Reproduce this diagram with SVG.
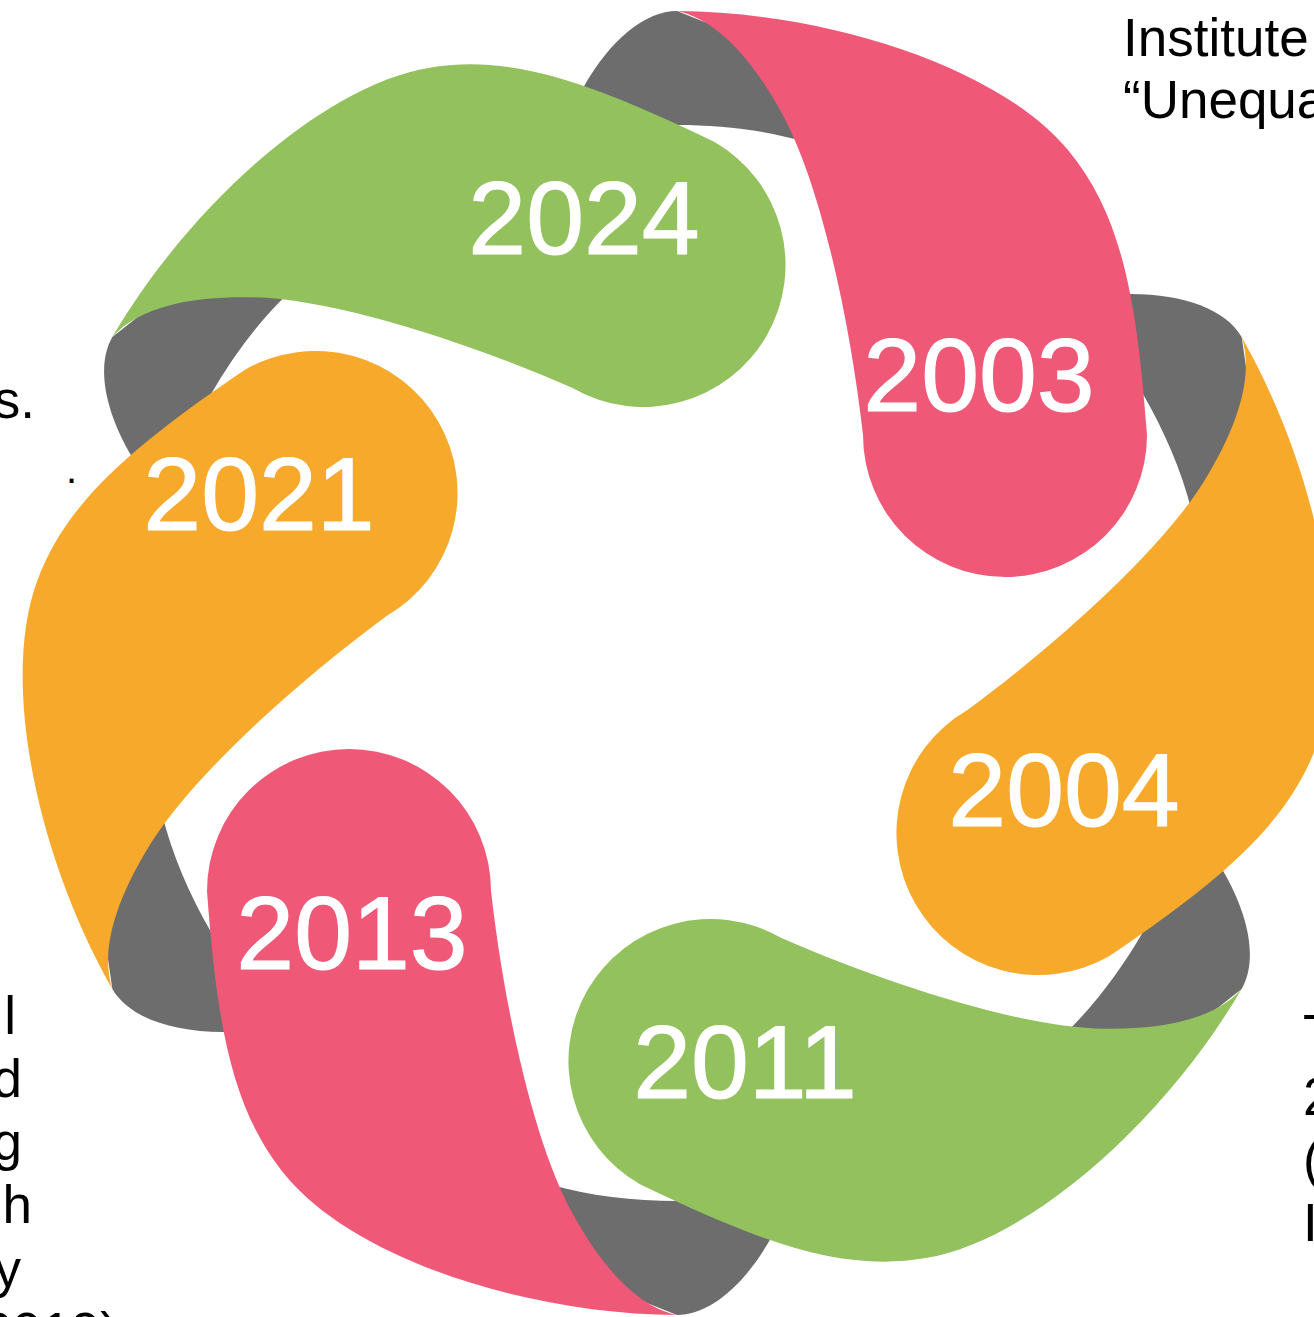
<svg xmlns="http://www.w3.org/2000/svg" xmlns:xlink="http://www.w3.org/1999/xlink" width="1314" height="1317" viewBox="0 0 1314 1317">
  <style>
    .pink{fill:#F05878}
    .orange{fill:#F6A92B}
    .green{fill:#92C15D}
    .fold{fill:#6D6D6D}
    .year{font-family:"Liberation Sans",Arial,sans-serif;font-size:104px;fill:#FFFFFF;stroke:#FFFFFF;stroke-width:1.2px;text-anchor:middle}
    .note{font-family:"Liberation Sans",Arial,sans-serif;font-size:53px;fill:#000000}
    .end{text-anchor:end}
  </style>
  <defs>
    <!-- one ribbon segment: pointed tail on the outer ring, round cap inside -->
    <path id="petal" d="M677,11 C830,12 1000,68 1068,150 C1122,215 1137,300 1147,435 A142,142 0 0 1 863,435 C850,320 820,180 780,110 C755,65 720,20 677,11 Z"/>
    <!-- grey underside of the ribbon where it folds behind the tail -->
    <path id="fold" d="M677,11 C645,11 610,40 583,88 L545,150 L612,133 C635,127 655,125 677,125 C720,125 765,130 805,142 L800,60 Z"/>
  </defs>

  <rect width="1314" height="1317" fill="#FFFFFF"/>

  <!-- folds sit behind every ribbon segment -->
  <g id="connectors" class="fold">
    <use xlink:href="#fold" href="#fold"/>
    <use xlink:href="#fold" href="#fold" transform="rotate(60 677 663)"/>
    <use xlink:href="#fold" href="#fold" transform="rotate(120 677 663)"/>
    <use xlink:href="#fold" href="#fold" transform="rotate(180 677 663)"/>
    <use xlink:href="#fold" href="#fold" transform="rotate(240 677 663)"/>
    <use xlink:href="#fold" href="#fold" transform="rotate(300 677 663)"/>
  </g>

  <g id="node-2003">
    <use xlink:href="#petal" href="#petal" class="pink"/>
    <text class="year" x="979" y="411">2003</text>
  </g>
  <g id="node-2004">
    <use xlink:href="#petal" href="#petal" class="orange" transform="rotate(60 677 663)"/>
    <text class="year" x="1064" y="826">2004</text>
  </g>
  <g id="node-2011">
    <use xlink:href="#petal" href="#petal" class="green" transform="rotate(120 677 663)"/>
    <text class="year" x="745" y="1098">2011</text>
  </g>
  <g id="node-2013">
    <use xlink:href="#petal" href="#petal" class="pink" transform="rotate(180 677 663)"/>
    <text class="year" x="352" y="969">2013</text>
  </g>
  <g id="node-2021">
    <use xlink:href="#petal" href="#petal" class="orange" transform="rotate(240 677 663)"/>
    <text class="year" x="259" y="530">2021</text>
  </g>
  <g id="node-2024">
    <use xlink:href="#petal" href="#petal" class="green" transform="rotate(300 677 663)"/>
    <text class="year" x="584" y="254">2024</text>
  </g>

  <!-- side notes running off the edges -->
  <g id="notes" class="note">
    <text x="1123" y="56">Institute</text>
    <text x="1123" y="118">“Unequa</text>

    <text class="end" x="35" y="418">s.</text>
    <text class="end" x="77" y="483" style="font-size:40px">.</text>

    <text class="end" x="16" y="1034">l</text>
    <text class="end" x="22" y="1097">d</text>
    <text class="end" x="22" y="1160">g</text>
    <text class="end" x="32" y="1223">h</text>
    <text class="end" x="21" y="1287">y</text>
    <text class="end" x="118" y="1350">(2019)</text>

    <text x="1303" y="1052">T</text>
    <text x="1303" y="1115">2</text>
    <text x="1303" y="1178">(</text>
    <text x="1303" y="1241">I</text>
  </g>
</svg>
